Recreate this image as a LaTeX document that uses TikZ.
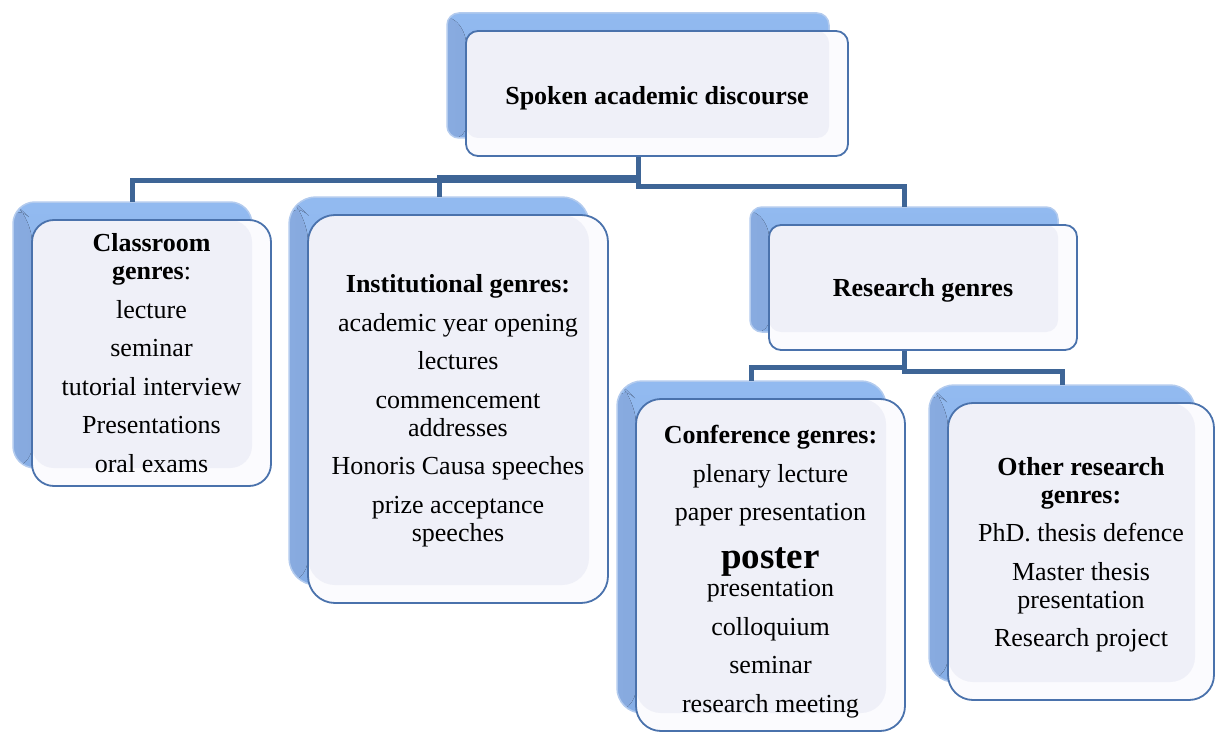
\documentclass[tikz,border=0pt]{standalone}
\usepackage{fontspec}
\setmainfont{Liberation Serif}
\usetikzlibrary{calc}
\definecolor{linkcol}{HTML}{3E6596}
\definecolor{frontborder}{HTML}{4A72AC}
\definecolor{frontfill}{HTML}{FBFBFE}
\definecolor{ovlcol}{HTML}{EFF0F8}
\definecolor{backtop}{HTML}{92BAF0}
\definecolor{backbot}{HTML}{86AEE6}
\definecolor{bevelL}{HTML}{88ABE0}
\definecolor{bevelR}{HTML}{7192C6}
\definecolor{backedge}{HTML}{B3CBEE}
\pgfdeclarelayer{bg}
\pgfdeclarelayer{links}
\pgfsetlayers{bg,links,main}
\newcommand{\pgap}{\\[10.5pt]}
\newcommand{\tdown}[1]{\rule{0pt}{#1}}
\tikzset{
  txt/.style={font=\fontsize{26}{28}\selectfont, align=center, text=black},
  front/.style={draw=frontborder, line width=1.8pt, fill=frontfill, inner sep=0pt, outer sep=0pt, txt,
    path picture={\fill[ovlcol] (path picture bounding box.north west) rectangle ([shift={(-19pt,18pt)}]path picture bounding box.south east);}},
  back/.style={draw=backedge, line width=1.5pt, top color=backtop, bottom color=backbot, inner sep=0pt, outer sep=0pt,
    path picture={\fill[left color=bevelL, right color=bevelR] (path picture bounding box.north west) -- ([shift={(19pt,-18pt)}]path picture bounding box.north west) -- ([shift={(19pt,0pt)}]path picture bounding box.south west) -- (path picture bounding box.south west) -- cycle;}},
  link/.style={draw=linkcol, line width=5pt}
}
\newcommand{\gbox}[7]{%
  \begin{pgfonlayer}{bg}
    \node[back, rounded corners=#6, minimum width=#4, minimum height=#5] (#1b) at (#2-19,#3-18) {};
  \end{pgfonlayer}
  \node[front, rounded corners=#6, minimum width=#4, minimum height=#5] (#1) at (#2,#3) {#7};
}
\begin{document}
\begin{tikzpicture}[x=1pt,y=-1pt]
\useasboundingbox (0,0) rectangle (1216,733);
\gbox{top}{657}{93.5}{382pt}{125pt}{12pt}{\tdown{28pt}\textbf{Spoken academic discourse}}
\gbox{cls}{151.5}{353}{239pt}{266pt}{22pt}{\textbf{Classroom}\\\textbf{genres}:\pgap lecture\pgap seminar\pgap tutorial interview\pgap Presentations\pgap oral exams}
\gbox{inst}{458}{409}{300pt}{388pt}{27pt}{\tdown{22pt}\textbf{Institutional genres:}\pgap academic year opening\pgap lectures\pgap commencement\\addresses\pgap Honoris Causa speeches\pgap prize acceptance\\speeches}
\gbox{res}{923}{287.5}{308pt}{125pt}{12pt}{\tdown{23pt}\textbf{Research genres}}
\gbox{conf}{770.5}{565}{269pt}{332pt}{25pt}{\tdown{32pt}\textbf{Conference genres:}\pgap plenary lecture\pgap paper presentation\\[20pt]{\fontsize{37}{40}\selectfont\textbf{poster}}\\presentation\pgap colloquium\pgap seminar\pgap research meeting}
\gbox{oth}{1081}{551.5}{266pt}{297pt}{25pt}{\tdown{25pt}\textbf{Other research}\\\textbf{genres:}\pgap PhD. thesis defence\pgap Master thesis\\presentation\pgap Research project}
\begin{pgfonlayer}{links}
\draw[link] (topb.south) -- ++(0,43) -| (clsb.north);
\draw[link] (topb.south) -- ++(0,40) -| (instb.north);
\draw[link] (topb.south) -- ++(0,49) -| (resb.north);
\draw[link] (resb.south) -- ++(0,35) -| (confb.north);
\draw[link] (resb.south) -- ++(0,39) -| (othb.north);
\end{pgfonlayer}
\end{tikzpicture}
\end{document}
